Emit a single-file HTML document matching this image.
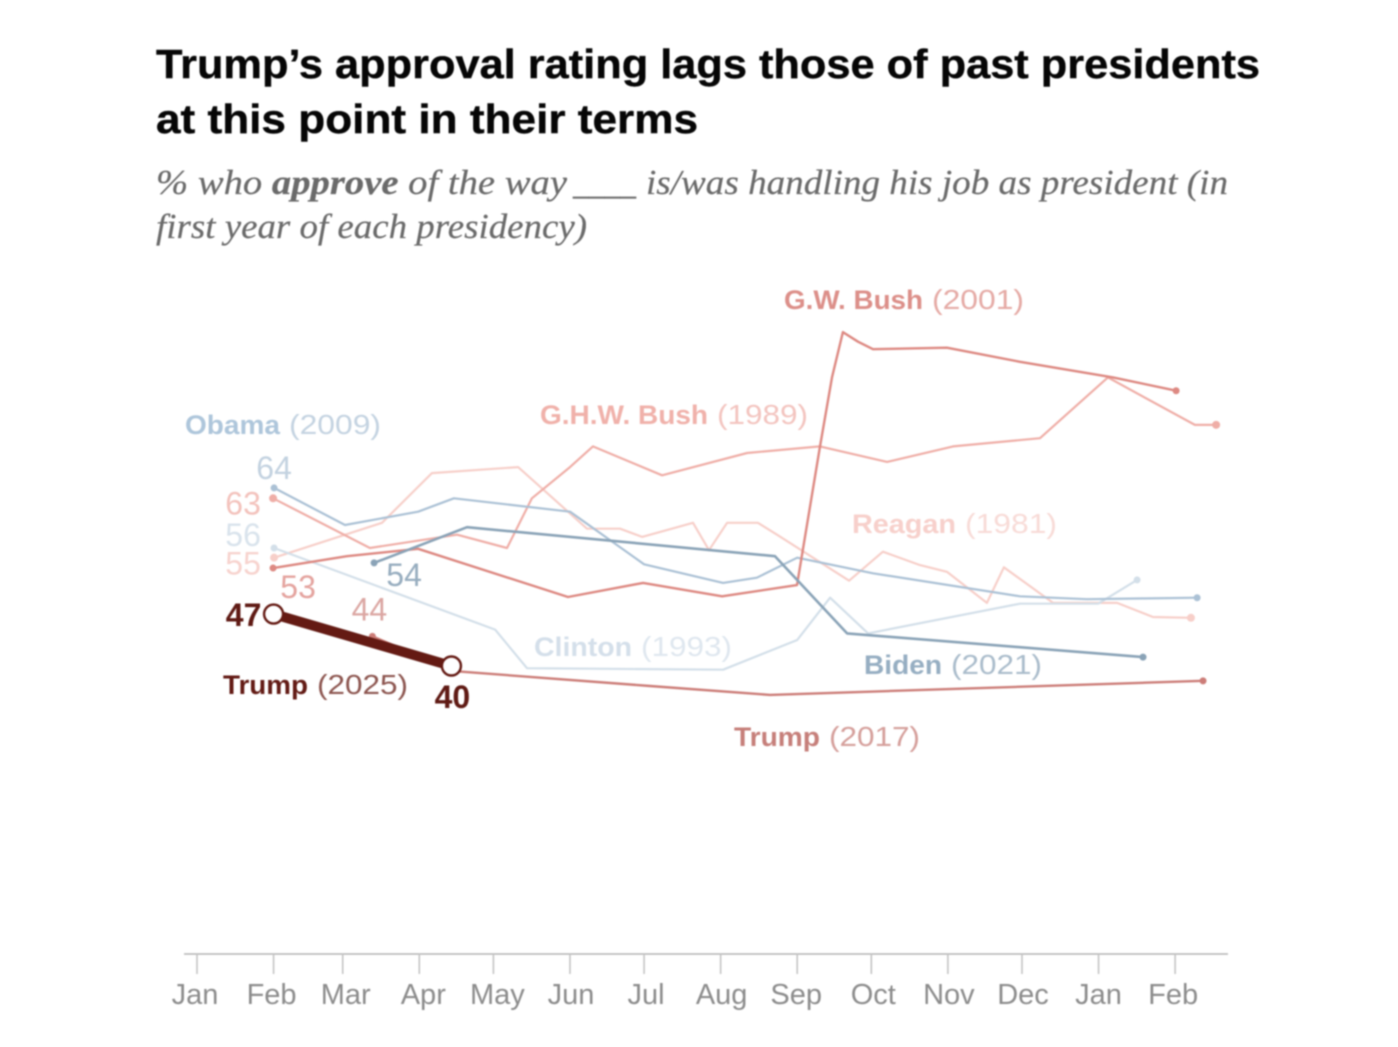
<!DOCTYPE html>
<html lang="en">
<head>
<meta charset="utf-8">
<title>Trump's approval rating lags those of past presidents</title>
<style>
html,body{margin:0;padding:0;background:#fff;width:1398px;height:1047px;overflow:hidden}
svg{display:block;filter:blur(0.75px)}
.t{font-family:"Liberation Sans",sans-serif;font-weight:700;font-size:41px;fill:#060606;stroke:#060606;stroke-width:.4px}
.s{font-family:"Liberation Serif",serif;font-style:italic;font-size:35px;fill:#6a6a6a;stroke:#6a6a6a;stroke-width:.2px}
.nm{font-family:"Liberation Sans",sans-serif;font-weight:700;font-size:27px}
.yr{font-family:"Liberation Sans",sans-serif;font-size:28px}
.mo{font-family:"Liberation Sans",sans-serif;font-size:29px;fill:#8c8c8c;text-anchor:middle}
.val{font-family:"Liberation Sans",sans-serif;font-size:32px;text-anchor:middle}
.valb{font-family:"Liberation Sans",sans-serif;font-size:32px;font-weight:700;text-anchor:middle;fill:#5f1a14}
</style>
</head>
<body>
<svg id="chart" width="1398" height="1047" viewBox="0 0 1398 1047" xmlns="http://www.w3.org/2000/svg">
  <rect width="1398" height="1047" fill="#ffffff"/>
  <text class="t" x="156" y="78" textLength="1104" lengthAdjust="spacingAndGlyphs">Trump’s approval rating lags those of past presidents</text>
  <text class="t" x="156" y="133" textLength="542" lengthAdjust="spacingAndGlyphs">at this point in their terms</text>
  <text class="s" x="156" y="194" textLength="411" lengthAdjust="spacingAndGlyphs">% who <tspan font-weight="700">approve</tspan> of the way</text>
  <text class="s" x="573" y="194" textLength="63" lengthAdjust="spacingAndGlyphs">____</text>
  <text class="s" x="646" y="194" textLength="582" lengthAdjust="spacingAndGlyphs">is/was handling his job as president (in</text>
  <text class="s" x="156" y="238" textLength="431" lengthAdjust="spacingAndGlyphs">first year of each presidency)</text>

  <g id="axis"></g>
  <g id="marks"></g>
  <g id="values"></g>

  <g>
    <text class="nm" x="784" y="309" textLength="139" lengthAdjust="spacingAndGlyphs" fill="#dc8f89">G.W. Bush</text>
    <text class="yr" x="932" y="309" textLength="92" lengthAdjust="spacingAndGlyphs" fill="#e5aaa5">(2001)</text>
    <text class="nm" x="540" y="424" textLength="168" lengthAdjust="spacingAndGlyphs" fill="#f0b1aa">G.H.W. Bush</text>
    <text class="yr" x="717" y="424" textLength="91" lengthAdjust="spacingAndGlyphs" fill="#f3c4bf">(1989)</text>
    <text class="nm" x="185" y="434" textLength="95" lengthAdjust="spacingAndGlyphs" fill="#aec6db">Obama</text>
    <text class="yr" x="289" y="434" textLength="92" lengthAdjust="spacingAndGlyphs" fill="#c4d3e1">(2009)</text>
    <text class="nm" x="852" y="533" textLength="104" lengthAdjust="spacingAndGlyphs" fill="#f7d0cb">Reagan</text>
    <text class="yr" x="965" y="533" textLength="92" lengthAdjust="spacingAndGlyphs" fill="#f8dbd7">(1981)</text>
    <text class="nm" x="534" y="656" textLength="98" lengthAdjust="spacingAndGlyphs" fill="#d4dfea">Clinton</text>
    <text class="yr" x="641" y="656" textLength="91" lengthAdjust="spacingAndGlyphs" fill="#dfe7ef">(1993)</text>
    <text class="nm" x="864" y="674" textLength="78" lengthAdjust="spacingAndGlyphs" fill="#96aec2">Biden</text>
    <text class="yr" x="951" y="674" textLength="91" lengthAdjust="spacingAndGlyphs" fill="#aabccb">(2021)</text>
    <text class="nm" x="734" y="746" textLength="86" lengthAdjust="spacingAndGlyphs" fill="#c67f7a">Trump</text>
    <text class="yr" x="829" y="746" textLength="91" lengthAdjust="spacingAndGlyphs" fill="#d59f9b">(2017)</text>
    <text class="nm" x="223" y="694" textLength="85" lengthAdjust="spacingAndGlyphs" fill="#631b15">Trump</text>
    <text class="yr" x="317" y="694" textLength="91" lengthAdjust="spacingAndGlyphs" fill="#8d5650">(2025)</text>
  </g>
</svg>
<script>
// Axis categories: month labels and day-of-term at which each month starts
const monthLabels = ['Jan','Feb','Mar','Apr','May','Jun','Jul','Aug','Sep','Oct','Nov','Dec','Jan','Feb'];
const monthDays = [0,31,59,90,120,151,181,212,243,273,304,334,365,396];

// Series: days since Jan 1 of first year, percent approving
const reaganDays = [31.2,74.9,95.1,130,150.2,157.9,171.3,180.2,200.8,207.3,214.6,227.1,234.8,264,277.7,292.7,303.6,319.8,326.7,346.6,372.5,387,402.4];
const reaganValues = [54.6,59.3,66,66.8,60.8,58.5,58.5,57.4,59.3,55.6,59.3,59.3,57.7,51.5,55.4,53.6,52.7,48.5,53.3,48.5,48.5,46.6,46.5];
const clintonDays = [31.2,120.7,133.6,213,243,256.3,271.7,333.2,364.8,380.6];
const clintonValues = [55.9,44.9,39.7,39.5,43.5,49.2,44.4,48.4,48.4,51.6];
const ghwBushDays = [30.8,70,105.3,125.5,135.6,151,160.3,188.3,222.7,252.2,279.4,306.1,341.3,368.8,404,412.6];
const ghwBushValues = [62.6,55.9,57.7,55.9,62.6,66.8,69.6,65.7,68.7,69.6,67.5,69.6,70.7,78.9,72.5,72.5];
const obamaDays = [31.2,59.9,89.5,104,151,181,213,226.7,243,273.7,333.2,360.3,404.9];
const obamaValues = [64,59,60.8,62.6,60.8,53.7,51.2,51.9,54.6,52.5,49.4,49,49.2];
const gwBushDays = [30.8,60.7,89.5,150.2,180.6,212.6,242.9,252.2,257.1,261.5,267.6,273.7,303.6,333.2,370.9,396.4];
const gwBushValues = [53.2,54.8,55.8,49.3,51.2,49.4,50.9,69.5,78.9,85,83.7,82.7,82.9,81,78.9,77.1];
const bidenDays = [71.7,109.3,234,263.2,383];
const bidenValues = [53.9,58.7,54.8,44.4,41.2];
const trump2017Days = [71,104.5,183.4,232,407.3];
const trump2017Values = [44,39.3,37.3,36.1,38];
const trump2025Days = [31,103];
const trump2025Values = [47,40];

const SVGNS = 'http://www.w3.org/2000/svg';
const xScale = d => 197 + 2.47 * d;
const yScale = v => 666 - (v - 40) * 7.42;
const axisG = document.getElementById('axis');
const marksG = document.getElementById('marks');
const valuesG = document.getElementById('values');

function make(tag, parent, props) {
  const el = document.createElementNS(SVGNS, tag);
  Object.keys(props).forEach(k => el.setAttribute(k, props[k]));
  parent.appendChild(el);
  return el;
}

const axisLine = make('line', axisG, {x1: 184, x2: 1228, y1: 954, y2: 954, stroke: '#b4b4b4', 'stroke-width': 1.6});



// Horizontal label nudges relative to each tick, as set in the original layout
const tickLabelNudge = [-2,-2,3,4,4,1,2,1,-1,2,1,1,0,-2];

monthLabels.forEach((label, i) => {
  const x = xScale(monthDays[i]);
  const tick = make('line', axisG, {x1: x, x2: x, y1: 954, y2: 974, stroke: '#c4c4c4', 'stroke-width': 1.6});
  
  
  const text = make('text', axisG, {x: x + tickLabelNudge[i], y: 1004, class: 'mo'});
  text.textContent = label;
  
  
});

function drawSeries(name, days, values, color, width, dotRadius) {
  const pts = days.map((d, i) => xScale(d).toFixed(1) + ',' + yScale(values[i]).toFixed(1)).join(' ');
  const line = make('polyline', marksG, {points: pts, fill: 'none', stroke: color, 'stroke-width': width, 'stroke-linejoin': 'round'});
  
  
  [0, days.length - 1].forEach(i => {
    const dot = make('circle', marksG, {cx: xScale(days[i]), cy: yScale(values[i]), r: dotRadius, fill: color});
    
    
  });
}

drawSeries('reagan', reaganDays, reaganValues, '#f7cfc9', 2.2, 4);
drawSeries('clinton', clintonDays, clintonValues, '#d3dfe9', 2.2, 3.5);
drawSeries('ghw-bush', ghwBushDays, ghwBushValues, '#efaea7', 2.2, 4);
drawSeries('obama', obamaDays, obamaValues, '#abc1d5', 2.2, 3.5);
drawSeries('gw-bush', gwBushDays, gwBushValues, '#dd8982', 2.4, 3.5);
drawSeries('biden', bidenDays, bidenValues, '#8aa3b7', 2.6, 3.5);
drawSeries('trump-2017', trump2017Days, trump2017Values, '#cc7d78', 2.4, 3.5);

const trumpPts = trump2025Days.map((d, i) => xScale(d) + ',' + yScale(trump2025Values[i])).join(' ');
const trumpLine = make('polyline', marksG, {points: trumpPts, fill: 'none', stroke: '#641a13', 'stroke-width': 10});


trump2025Days.forEach((d, i) => {
  const c = make('circle', marksG, {cx: xScale(d), cy: yScale(trump2025Values[i]), r: 9.5, fill: '#fff', stroke: '#641a13', 'stroke-width': 2.4});
  
  
});

function valueLabel(name, value, day, v, dx, dy, color, cls) {
  const t = make('text', valuesG, {x: xScale(day) + dx, y: yScale(v) + dy, class: cls});
  if (color) t.setAttribute('fill', color);
  t.textContent = Math.round(value);
  
  
}

valueLabel('obama', obamaValues[0], obamaDays[0], obamaValues[0], 0, -9, '#c3d2e0', 'val');
valueLabel('ghw-bush', ghwBushValues[0], ghwBushDays[0], ghwBushValues[0], -30, 16, '#f3c2bc', 'val');
valueLabel('clinton', clintonValues[0], clintonDays[0], clintonValues[0], -31, -2, '#d9e3ec', 'val');
valueLabel('reagan', reaganValues[0], reaganDays[0], reaganValues[0], -31, 17, '#f7d3ce', 'val');
valueLabel('gw-bush', gwBushValues[0], gwBushDays[0], gwBushValues[0], 25, 30, '#e4a39e', 'val');
valueLabel('trump-2017', trump2017Values[0], trump2017Days[0], trump2017Values[0], -3, -16, '#dba6a2', 'val');
valueLabel('biden', bidenValues[0], bidenDays[0], bidenValues[0], 30, 23, '#97adbf', 'val');
valueLabel('trump-2025-start', trump2025Values[0], trump2025Days[0], trump2025Values[0], -30, 12, null, 'valb');
valueLabel('trump-2025-end', trump2025Values[1], trump2025Days[1], trump2025Values[1], 1, 42, null, 'valb');
</script>
</body>
</html>
